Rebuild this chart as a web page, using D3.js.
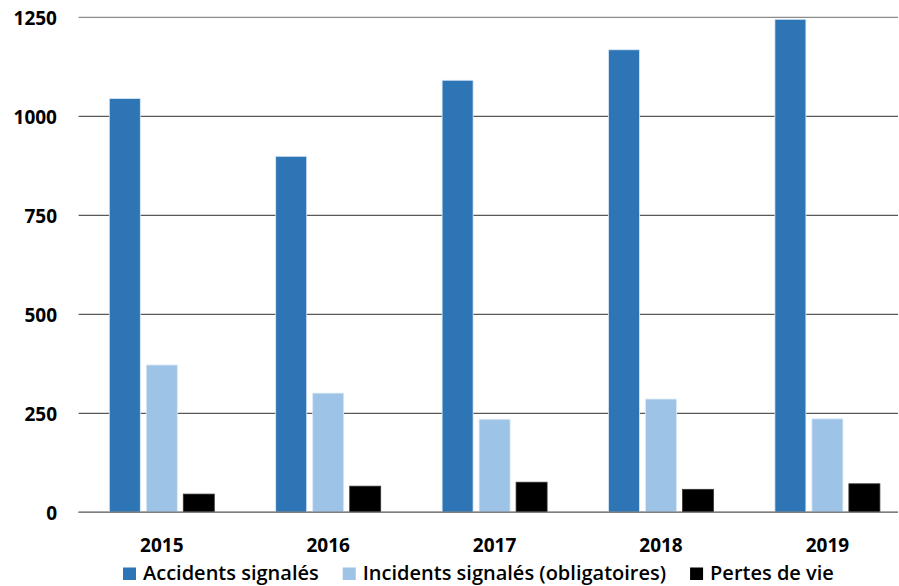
<!DOCTYPE html>
<html>
<head>
<meta charset="utf-8">
<script src="https://cdn.jsdelivr.net/npm/d3@7"></script>
<style>
  html, body { margin: 0; padding: 0; background: #ffffff; }
  svg { display: block; }
  text { font-family: "Open Sans", "Noto Sans", sans-serif; font-weight: 700; fill: #000; }
</style>
</head>
<body>
<svg id="chart" width="899" height="586"></svg>
<script>
// Années et séries
const years = ["2015", "2016", "2017", "2018", "2019"];
const seriesNames = ["Accidents signalés", "Incidents signalés (obligatoires)", "Pertes de vie"];
const accidents = [1045, 899, 1091, 1168, 1245];
const incidents = [372, 301, 235, 286, 236];
const pertes = [46, 66, 76, 58, 72];
const yTicks = [0, 250, 500, 750, 1000, 1250];
const colors = ["#2e75b6", "#9dc3e6", "#000000"];

const seriesValues = [accidents, incidents, pertes];
const rows = years.map((y, i) => ({
  year: y,
  values: seriesNames.map((s, k) => ({ key: s, value: seriesValues[k][i], color: colors[k] }))
}));

const svg = d3.select("#chart");
const plot = { left: 78.6, right: 910.6, top: 17.3, bottom: 512.3 };

const y = d3.scaleLinear().domain([0, 1250]).range([plot.bottom, plot.top]);
const x0 = d3.scaleBand().domain(years).range([plot.left, plot.right])
  .paddingInner(0.369).paddingOuter(0.1845);
const x1 = d3.scaleBand().domain(seriesNames).range([0, x0.bandwidth()])
  .paddingInner(6 / 37).paddingOuter(0);

// Grille horizontale
const grid = svg.append("g").attr("class", "grid");
grid.selectAll("line").data(yTicks).join("line")
  .attr("x1", plot.left).attr("x2", 898)
  .attr("y1", d => y(d)).attr("y2", d => y(d))
  .attr("stroke", d => d === 1250 ? "#8c8c8c" : "#595959")
  .attr("stroke-width", 1.2);

// Barres
const groups = svg.append("g").selectAll("g").data(rows).join("g")
  .attr("transform", d => `translate(${x0(d.year)},0)`);
groups.selectAll("rect").data(d => d.values).join("rect")
  .attr("x", d => x1(d.key))
  .attr("width", x1.bandwidth())
  .attr("y", d => y(d.value))
  .attr("height", d => y(0) - y(d.value))
  .attr("fill", d => d.color)
  .attr("stroke", d => d.color === "#000000" ? "#333" : "#dbe9f6")
  .attr("stroke-width", 0.8);

// Ligne de base
svg.append("line")
  .attr("x1", plot.left).attr("x2", 898)
  .attr("y1", y(0)).attr("y2", y(0))
  .attr("stroke", "#7f7f7f").attr("stroke-width", 1.4);

// Axe Y
const yAxis = d3.axisLeft(y).tickValues(yTicks).tickFormat(d3.format("d")).tickSize(0).tickPadding(0);
const gy = svg.append("g").attr("transform", "translate(57,0)").call(yAxis);
gy.select(".domain").remove();
gy.selectAll("text").style("font-size", "19px").attr("dy", "0.36em").attr("fill", "#000");

// Axe X
const xAxis = d3.axisBottom(x0).tickSize(0).tickPadding(0);
const gx = svg.append("g").attr("transform", `translate(0,${plot.bottom})`).call(xAxis);
gx.select(".domain").remove();
gx.selectAll("text").style("font-size", "19px").attr("dy", "0").attr("y", 39.5).attr("fill", "#000");

// Légende
const legend = svg.append("g").attr("transform", "translate(123,567.5)");
let lx = 0;
seriesNames.forEach((name, k) => {
  const item = legend.append("g").attr("transform", `translate(${lx},0)`);
  item.append("rect").attr("width", 13).attr("height", 12.5).attr("fill", colors[k]);
  const t = item.append("text").attr("x", 20).attr("y", 12.5)
    .style("font-size", "20px").style("font-weight", "600").text(name);
  lx += 20 + t.node().getComputedTextLength() + 24;
});
</script>
</body>
</html>
